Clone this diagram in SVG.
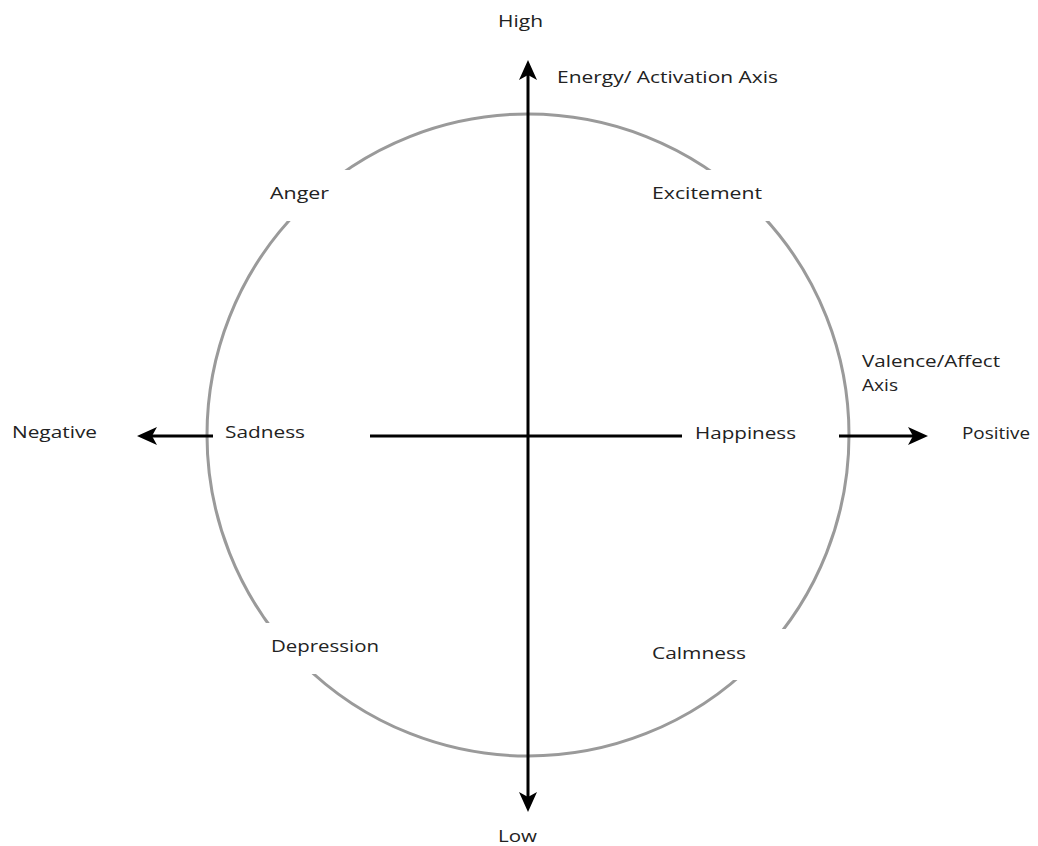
<svg xmlns="http://www.w3.org/2000/svg" width="1038" height="846" viewBox="0 0 1038 846">
  <style>
    .lbl { font-family: "Open Sans", "Liberation Sans", sans-serif; font-size: 17px; fill: #222; }
    .mask { fill: #ffffff; stroke: none; }
    .axis { stroke: #000; stroke-width: 3; fill: none; }
    .ring { stroke: #9a9a9a; stroke-width: 3; fill: none; }
  </style>
  <defs>
    <marker id="arrow" viewBox="0 0 20 18" refX="12" refY="9" markerWidth="20" markerHeight="18" markerUnits="userSpaceOnUse" orient="auto-start-reverse">
      <path d="M0,0 L20,9 L0,18 L5,9 z" fill="#000"/>
    </marker>
  </defs>
  <rect x="0" y="0" width="1038" height="846" fill="#ffffff"/>

  <g id="circle">
    <circle class="ring" cx="528" cy="435" r="321"/>
  </g>

  <g id="label-masks">
    <rect class="mask" x="262" y="170" width="90" height="51"/>
    <rect class="mask" x="644" y="170" width="126" height="51"/>
    <rect class="mask" x="262" y="623" width="126" height="51"/>
    <rect class="mask" x="644" y="629" width="146" height="51"/>
  </g>

  <g id="connectors">
    <line class="axis" x1="528" y1="804" x2="528" y2="68" marker-start="url(#arrow)" marker-end="url(#arrow)"/>
    <line class="axis" x1="213" y1="436" x2="145" y2="436" marker-end="url(#arrow)"/>
    <line class="axis" x1="370" y1="436" x2="682" y2="436"/>
    <line class="axis" x1="839" y1="436" x2="920" y2="436" marker-end="url(#arrow)"/>
  </g>

  <g id="node-high"><text class="lbl" x="498" y="27" textLength="45" lengthAdjust="spacingAndGlyphs">High</text></g>
  <g id="node-energy-axis"><text class="lbl" x="557" y="83" textLength="221" lengthAdjust="spacingAndGlyphs">Energy/ Activation Axis</text></g>
  <g id="node-anger"><text class="lbl" x="270" y="199" textLength="59" lengthAdjust="spacingAndGlyphs">Anger</text></g>
  <g id="node-excitement"><text class="lbl" x="652" y="199" textLength="110" lengthAdjust="spacingAndGlyphs">Excitement</text></g>
  <g id="node-valence-axis">
    <text class="lbl" x="862" y="367" textLength="138" lengthAdjust="spacingAndGlyphs">Valence/Affect</text>
    <text class="lbl" x="862" y="391" textLength="36" lengthAdjust="spacingAndGlyphs">Axis</text>
  </g>
  <g id="node-negative"><text class="lbl" x="12" y="438" textLength="85" lengthAdjust="spacingAndGlyphs">Negative</text></g>
  <g id="node-sadness"><text class="lbl" x="225" y="438" textLength="80" lengthAdjust="spacingAndGlyphs">Sadness</text></g>
  <g id="node-happiness"><text class="lbl" x="695" y="439" textLength="101" lengthAdjust="spacingAndGlyphs">Happiness</text></g>
  <g id="node-positive"><text class="lbl" x="962" y="439" textLength="68" lengthAdjust="spacingAndGlyphs">Positive</text></g>
  <g id="node-depression"><text class="lbl" x="271" y="652" textLength="108" lengthAdjust="spacingAndGlyphs">Depression</text></g>
  <g id="node-calmness"><text class="lbl" x="652" y="659" textLength="94" lengthAdjust="spacingAndGlyphs">Calmness</text></g>
  <g id="node-low"><text class="lbl" x="498" y="842" textLength="39" lengthAdjust="spacingAndGlyphs">Low</text></g>
</svg>
